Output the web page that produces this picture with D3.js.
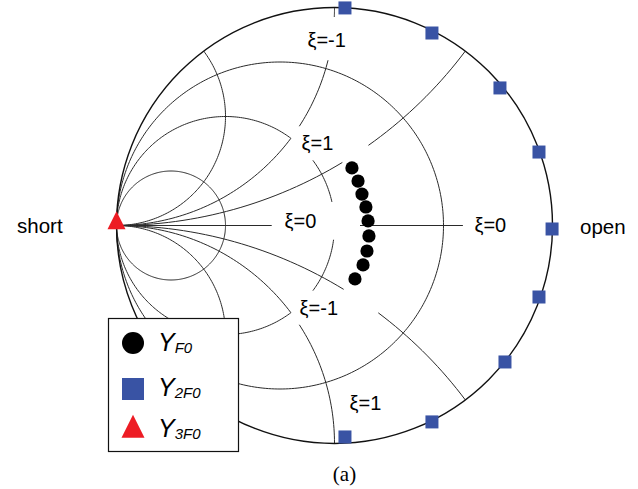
<!DOCTYPE html>
<html>
<head>
<meta charset="utf-8">
<script src="https://cdn.jsdelivr.net/npm/d3@7/dist/d3.min.js"></script>
<style>
  html, body { margin: 0; padding: 0; background: #fff; }
  svg { display: block; }
</style>
</head>
<body>
<svg id="chart" width="638" height="489"></svg>
<script>
// ---- Admittance Smith chart grid (normalised values) ----
const conductances = [1 / 3, 1, 3];
const susceptances = [-2, -1, -0.5, 0.5, 1, 2];

// ---- Reflection coefficients of the measured admittances ----
// Y_F0, fundamental, from ξ = 1 (top) to ξ = -1 (bottom)
const yF0Re = [0.080, 0.108, 0.126, 0.144, 0.154, 0.158, 0.149, 0.131, 0.094];
const yF0Im = [0.264, 0.204, 0.144, 0.085, 0.021, -0.048, -0.117, -0.181, -0.245];
// Y_2F0, second harmonic, on the rim (ξ = -1 at top to ξ = 1 at bottom)
const y2F0Re = [0.048, 0.447, 0.759, 0.938, 0.998, 0.938, 0.782, 0.447, 0.048];
const y2F0Im = [0.998, 0.883, 0.631, 0.337, -0.016, -0.328, -0.626, -0.901, -0.970];
// Y_3F0, third harmonic: short circuit
const y3F0Re = [-1];
const y3F0Im = [0];

// ---- Text ----
const xiLabels = ["ξ=-1", "ξ=1", "ξ=0", "ξ=-1", "ξ=0", "ξ=1"];
const endLabels = ["short", "open"];
const legendNames = [["Y", "F0"], ["Y", "2F0"], ["Y", "3F0"]];
const caption = "(a)";

// ---- Layout ----
const W = 638, H = 489;
const cx = 334.5, cy = 225.5, R = 218;
const x = d3.scaleLinear().domain([-1, 1]).range([cx - R, cx + R]);
const y = d3.scaleLinear().domain([-1, 1]).range([cy + R, cy - R]);

const svg = d3.select("#chart");
const gridColor = "#2a2a2a";
const FONT = "'Liberation Sans', Arial, Helvetica, sans-serif";

// angle ranges (degrees) of each grid arc that are drawn; the rest is left
// open so the ξ annotations read cleanly
const gDrawn = new Map([
  [1 / 3, [[0, 360]]],
  [1, [[53.13, 306.87], [12.5, 36.7], [323.3, 352.5]]],
  [3, [[0, 360]]]
]);
const bDrawn = new Map([
  [-2, [[-90, 36.87]]],
  [-1, [[-90, -36.87], [-33, -14], [-2.5, 0]]],
  [-0.5, [[-90, -58.8], [-54.7, -36.87]]],
  [0.5, [[58.6, 90], [36.87, 53.1]]],
  [1, [[36.87, 90], [0, 33]]],
  [2, [[-36.87, 90]]]
]);
const axisDrawn = [[-1, -0.288], [0.117, 0.589]];

const line = d3.line().x(d => x(d[0])).y(d => y(d[1]));

function arcPoints(c0, c1, r, a0, a1) {
  const n = Math.max(12, Math.ceil(Math.abs(a1 - a0) / 1));
  return d3.range(n + 1).map(i => {
    const a = (a0 + (a1 - a0) * i / n) * Math.PI / 180;
    return [c0 + r * Math.cos(a), c1 + r * Math.sin(a)];
  });
}

const grid = svg.append("g")
  .attr("fill", "none")
  .attr("stroke", gridColor)
  .attr("stroke-width", 1);

// constant-conductance circles
conductances.forEach(g => {
  const c0 = -g / (1 + g), r = 1 / (1 + g);
  gDrawn.get(g).forEach(([a0, a1]) => {
    grid.append("path").attr("d", line(arcPoints(c0, 0, r, a0, a1)));
  });
});

// constant-susceptance arcs
susceptances.forEach(b => {
  const c1 = -1 / b, r = Math.abs(1 / b);
  bDrawn.get(b).forEach(([a0, a1]) => {
    grid.append("path").attr("d", line(arcPoints(-1, c1, r, a0, a1)));
  });
});

// real axis
axisDrawn.forEach(([u0, u1]) => {
  grid.append("path").attr("d", line([[u0, 0], [u1, 0]]));
});

// unit circle
svg.append("circle")
  .attr("cx", x(0)).attr("cy", y(0))
  .attr("r", x(1) - x(0))
  .attr("fill", "none")
  .attr("stroke", "#111")
  .attr("stroke-width", 1.4);

// triangle symbol with equal width and height
const triangleType = {
  draw(ctx, size) {
    const s = Math.sqrt(size);
    ctx.moveTo(0, -s * 0.62);
    ctx.lineTo(s / 2, s * 0.38);
    ctx.lineTo(-s / 2, s * 0.38);
    ctx.closePath();
  }
};

const blue = "#3953a4", red = "#ed1c24";

// Y_2F0 squares
svg.append("g").selectAll("rect")
  .data(d3.zip(y2F0Re, y2F0Im))
  .join("rect")
  .attr("x", d => x(d[0]) - 6.5)
  .attr("y", d => y(d[1]) - 6.5)
  .attr("width", 13).attr("height", 13)
  .attr("fill", blue);

// Y_F0 dots
svg.append("g").selectAll("circle")
  .data(d3.zip(yF0Re, yF0Im))
  .join("circle")
  .attr("cx", d => x(d[0]))
  .attr("cy", d => y(d[1]))
  .attr("r", 6.6)
  .attr("fill", "#000");

// Y_3F0 triangle
svg.append("g").selectAll("path")
  .data(d3.zip(y3F0Re, y3F0Im))
  .join("path")
  .attr("d", d3.symbol().type(triangleType).size(18 * 18))
  .attr("transform", d => `translate(${x(d[0])},${y(d[1]) - 3})`)
  .attr("fill", red);

// ξ annotations (left edge, baseline) in reflection-coefficient units
const xiPos = [
  [-0.124, 0.819], [-0.151, 0.346], [-0.229, -0.011],
  [-0.160, -0.411], [0.642, -0.030], [0.069, -0.846]
];
svg.append("g").selectAll("text")
  .data(xiLabels)
  .join("text")
  .attr("x", (d, i) => x(xiPos[i][0]))
  .attr("y", (d, i) => y(xiPos[i][1]))
  .attr("font-family", FONT)
  .attr("font-size", 20)
  .attr("fill", "#000")
  .text(d => d);

// short / open
svg.append("text")
  .attr("x", 17).attr("y", 233)
  .attr("font-family", FONT).attr("font-size", 20.5)
  .text(endLabels[0]);
svg.append("text")
  .attr("x", 580).attr("y", 234)
  .attr("font-family", FONT).attr("font-size", 20.5)
  .text(endLabels[1]);

// caption
svg.append("text")
  .attr("x", 344.5).attr("y", 481)
  .attr("text-anchor", "middle")
  .attr("font-family", "'Liberation Serif', 'Times New Roman', serif")
  .attr("font-size", 21)
  .text(caption);

// legend
const lg = svg.append("g");
lg.append("rect")
  .attr("x", 108.5).attr("y", 318.5)
  .attr("width", 130).attr("height", 133)
  .attr("fill", "#fff")
  .attr("stroke", "#111")
  .attr("stroke-width", 1.2);

const rowSym = [343, 389, 429];
const rowText = [351, 396, 437];
lg.append("circle").attr("cx", 133).attr("cy", rowSym[0]).attr("r", 11).attr("fill", "#000");
lg.append("rect").attr("x", 122).attr("y", rowSym[1] - 11).attr("width", 22).attr("height", 22).attr("fill", blue);
lg.append("path")
  .attr("d", d3.symbol().type(triangleType).size(23 * 23))
  .attr("transform", `translate(133,${rowSym[2]})`)
  .attr("fill", red);

legendNames.forEach(([main, sub], i) => {
  const t = lg.append("text")
    .attr("x", 158).attr("y", rowText[i])
    .attr("font-family", FONT)
    .attr("font-style", "italic")
    .attr("font-size", 25);
  t.append("tspan").text(main);
  t.append("tspan").attr("font-size", 15).attr("dy", 2).text(sub);
});
</script>
</body>
</html>
